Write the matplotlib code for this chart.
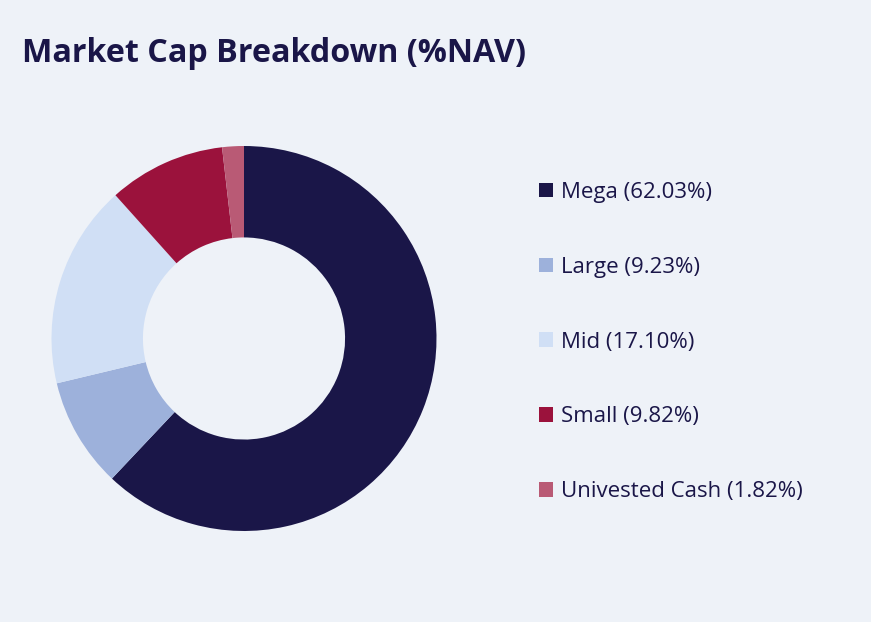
import matplotlib.pyplot as plt
from matplotlib.patches import Patch

labels = ["Mega", "Large", "Mid", "Small", "Univested Cash"]
values = [62.03, 9.23, 17.10, 9.82, 1.82]
colors = ["#1A1648", "#9DB1DB", "#D0DFF5", "#9B123C", "#B95A75"]

bg = "#EEF2F8"
txt = "#1A1648"

plt.rcParams['font.family'] = ['Open Sans', 'DejaVu Sans']

fig = plt.figure(figsize=(8.71, 6.22), dpi=100, facecolor=bg)
ax = fig.add_axes([51.5/871, (622-531)/622, 385/871, 385/622])
ax.set_facecolor(bg)
ax.pie(values, colors=colors, startangle=90, counterclock=False,
       wedgeprops=dict(width=0.475, linewidth=0))
ax.set_xlim(-1, 1)
ax.set_ylim(-1, 1)
ax.set_aspect('equal')
ax.axis('off')

fig.text(22/871, 1 - 54/622, "Market Cap Breakdown (%NAV)", fontsize=23.2,
         fontweight='bold', color=txt, va='center', ha='left')

handles = [Patch(facecolor=c, edgecolor='none') for c in colors]
leg_labels = [f"{l} ({v:.2f}%)" for l, v in zip(labels, values)]
leg = fig.legend(handles, leg_labels, loc='upper left',
                 bbox_to_anchor=(539/871, 1 - 182/622), frameon=False,
                 fontsize=16, handlelength=0.63, handleheight=0.63,
                 handletextpad=0.36, labelspacing=2.42, borderaxespad=0,
                 borderpad=0)
for t in leg.get_texts():
    t.set_color(txt)

fig.savefig("out.png", dpi=100, facecolor=bg)
